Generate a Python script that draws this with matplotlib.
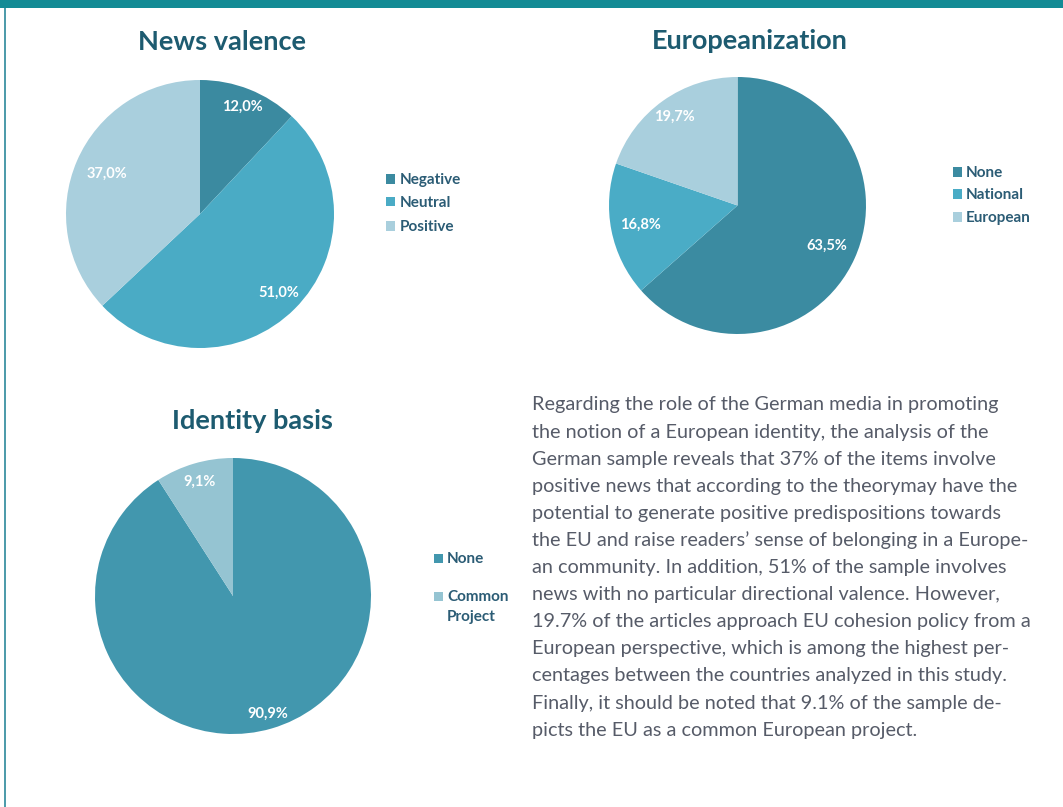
import numpy as np
import matplotlib
matplotlib.use("Agg")
import matplotlib.pyplot as plt
from matplotlib.patches import Rectangle

plt.rcParams['font.family'] = ['Lato', 'DejaVu Sans']

# ---- data ----
valence_labels = ["Negative", "Neutral", "Positive"]
valence_values = [12.0, 51.0, 37.0]
europ_labels = ["None", "National", "European"]
europ_values = [63.5, 16.8, 19.7]
identity_labels = ["None", "Common\nProject"]
identity_values = [90.9, 9.1]

body_lines = [
    "Regarding the role of the German media in promoting",
    "the notion of a European identity, the analysis of the",
    "German sample reveals that 37% of the items involve",
    "positive news that according to the theorymay have the",
    "potential to generate positive predispositions towards",
    "the EU and raise readers\u2019 sense of belonging in a Europe-",
    "an community. In addition, 51% of the sample involves",
    "news with no particular directional valence. However,",
    "19.7% of the articles approach EU cohesion policy from a",
    "European perspective, which is among the highest per-",
    "centages between the countries analyzed in this study.",
    "Finally, it should be noted that 9.1% of the sample de-",
    "picts the EU as a common European project.",
]

W, H = 1063, 807
fig = plt.figure(figsize=(W / 100, H / 100), dpi=100)
fig.patch.set_facecolor("white")

# decorations
fig.add_artist(Rectangle((0, 1 - 8 / H), 1, 8 / H, transform=fig.transFigure,
                         facecolor="#138b95", edgecolor="none"))
fig.add_artist(Rectangle((4 / W, 0), 2 / W, 1 - 8 / H, transform=fig.transFigure,
                         facecolor="#4f9cab", edgecolor="none"))

TITLE_C = "#1d5b70"
LEG_C = "#2b5c75"


def px_axes(cx, cy, r):
    return fig.add_axes([(cx - r) / W, (H - cy - r) / H, 2 * r / W, 2 * r / H])


def draw_pie(cx, cy, r, values, colors, lab_dist, title, title_xy):
    ax = px_axes(cx, cy, r)
    wedges, _ = ax.pie(values, colors=colors, startangle=90, counterclock=False,
                       radius=1, wedgeprops=dict(linewidth=0))
    ax.set_xlim(-1, 1)
    ax.set_ylim(-1, 1)
    ax.set_aspect("equal")
    ax.axis("off")
    for w, v, d in zip(wedges, values, lab_dist):
        th = np.deg2rad((w.theta1 + w.theta2) / 2)
        ax.text(d * np.cos(th), d * np.sin(th), f"{v:.1f}%".replace(".", ","),
                ha="center", va="center", color="white", fontsize=10.5,
                fontweight="bold")
    fig.text(title_xy[0] / W, 1 - title_xy[1] / H, title, ha="center",
             va="center", fontsize=19.5, fontweight="bold", color=TITLE_C)
    return wedges


def draw_legend(wedges, labels, mx, text_x, rows_y, msize=9):
    for w, lab, y in zip(wedges, labels, rows_y):
        fig.add_artist(Rectangle((mx / W, 1 - (y + msize / 2) / H), msize / W,
                                 msize / H, transform=fig.transFigure,
                                 facecolor=w.get_facecolor(), edgecolor="none"))
        fig.text(text_x / W, 1 - (y - 6) / H, lab, ha="left", va="top",
                 fontsize=11, fontweight="bold", color=LEG_C, linespacing=1.5)


w1 = draw_pie(200, 214, 134, valence_values, ["#3b8aa0", "#4aabc5", "#a9cfdd"],
              [0.86, 0.83, 0.76], "News valence", (222, 42))
draw_legend(w1, valence_labels, 386, 400, [179, 202, 226])

w2 = draw_pie(737.5, 205.5, 128.5, europ_values, ["#3b8ba1", "#4aacc6", "#a9cfdd"],
              [0.76, 0.77, 0.85], "Europeanization", (750, 41))
draw_legend(w2, europ_labels, 953, 966, [172, 194, 217])

w3 = draw_pie(233, 596, 138, identity_values, ["#4297ae", "#95c4d2"],
              [0.89, 0.86], "Identity basis", (252, 421))
draw_legend(w3, identity_labels, 434, 447, [558, 596])

# body text
y0 = 405
step = 27.1
for i, line in enumerate(body_lines):
    fig.text(532 / W, 1 - (y0 + i * step) / H, line, ha="left", va="center",
             fontsize=14.3, color="#565b68")

fig.savefig("out.png", dpi=100, facecolor="white")
